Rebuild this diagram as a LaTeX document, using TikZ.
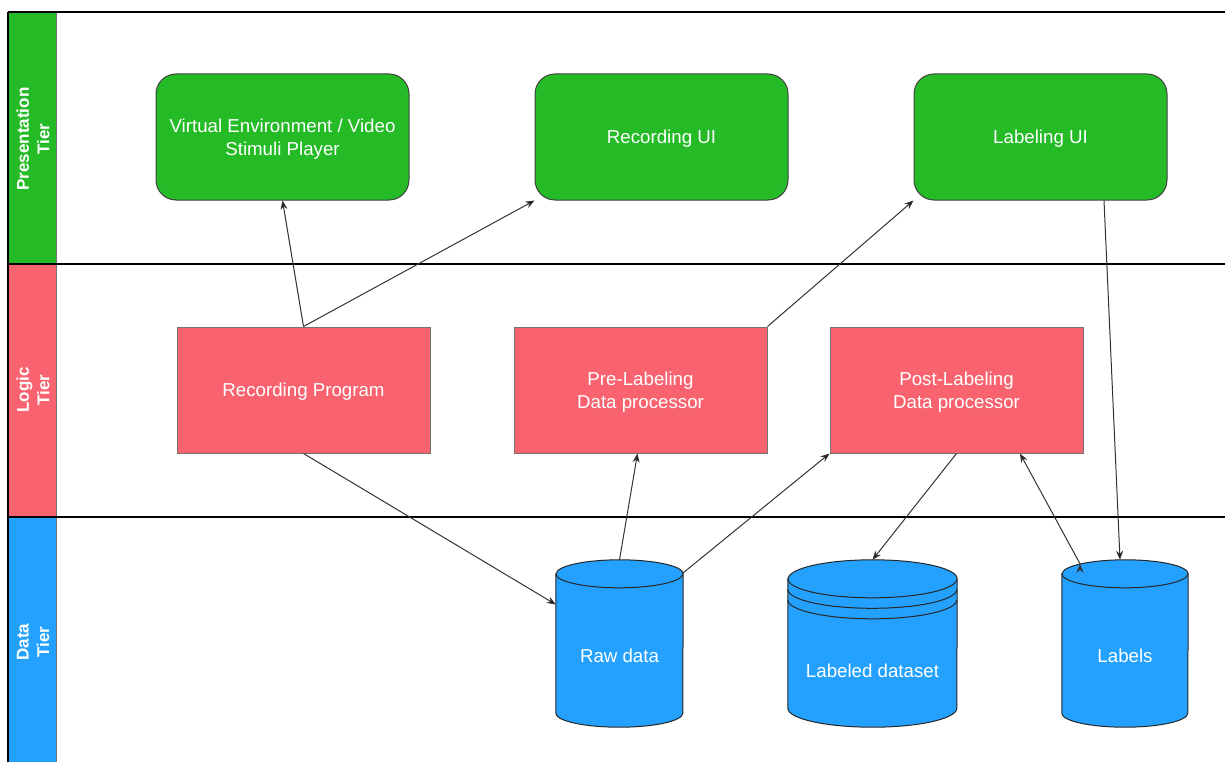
\documentclass[tikz,border=0pt]{standalone}
\usepackage{fontspec}
\setmainfont{Liberation Sans}
\usepackage{tikz}
\usetikzlibrary{arrows.meta,positioning,calc,backgrounds}
\usepackage{xcolor}

\definecolor{uigreen}{RGB}{36,187,38}
\definecolor{logicred}{RGB}{249,99,111}
\definecolor{datablue}{RGB}{36,161,255}
\newcommand{\boxfont}{\fontsize{18.7}{22.7}\selectfont}
\newcommand{\lanefont}{\fontsize{17}{20.5}\selectfont\bfseries}

\begin{document}
\begin{tikzpicture}[x=1pt,y=-1pt,>={Stealth[length=9pt,width=7pt]},node distance=253pt,on grid]
	\useasboundingbox (0,0) rectangle (1225,762);
	\tikzset{uibox/.style={draw=black!75,line width=1pt,fill=uigreen,rounded corners=20pt,minimum width=253pt,minimum height=126pt,text=white,align=center,font=\boxfont,text depth=0pt}}
	\tikzset{logicbox/.style={draw=black!55,line width=1pt,fill=logicred,minimum width=253pt,minimum height=126pt,text=white,align=center,font=\boxfont,text depth=0pt}}
	\tikzset{store/.style={inner sep=0pt,minimum height=167pt,text=white,font=\boxfont,text height=37.4pt,text depth=0pt}}
	\tikzset{lanetext/.style={rotate=90,text=white,align=center,font=\lanefont}}
	\tikzset{dbedge/.style={draw=black!85,line width=1pt}}
	\tikzset{link/.style={->,draw=black!80,line width=1pt}}

	% presentation tier
	\node[uibox]          (vr)       at (282.5,137)        {Virtual Environment / Video\\Stimuli Player};
	\node[uibox]          (recui)    [right=379pt of vr]   {Recording UI};
	\node[uibox]          (labui)    [right=379pt of recui] {Labeling UI};
	% logic tier
	\node[logicbox]       (recprog)  at (303.5,390)        {Recording Program};
	\node[logicbox]       (prelab)   [right=337pt of recprog] {Pre-Labeling\\Data processor};
	\node[logicbox]       (postlab)  [right=316pt of prelab]  {Post-Labeling\\Data processor};
	% data tier
	\node[store,minimum width=127pt] (raw)     at (619.5,643.5) {Raw data};
	\node[store,minimum width=169pt,text height=67.4pt] (labeled) [right=of raw] {Labeled dataset};
	\node[store,minimum width=126pt] (labels)  [right=252.5pt of labeled] {Labels};

	% lane titles
	\node[lanetext] (presentation) at (33,139) {Presentation\\Tier};
	\node[lanetext] (logic)        at (33,390) {Logic\\Tier};
	\node[lanetext] (data)         at (33,642) {Data\\Tier};

	\path[link] (recprog.north) edge (vr.south)
		(recprog.north) edge (recui.south west)
		(prelab.north east) edge (labui.south west)
		($(labui.south west)!0.75!(labui.south east)$) edge ([xshift=-5pt]labels.north)
		(recprog.south) edge ([yshift=39pt]raw.west)
		(raw.north) edge ([xshift=-3pt]prelab.south)
		([yshift=-13pt]raw.north east) edge (postlab.south west)
		(postlab.south) edge (labeled.north)
		([xshift=-45pt,yshift=-4pt]labels.north) edge ($(postlab.south)!0.5!(postlab.south east)$);

	\begin{pgfonlayer}{background}
		% swimlanes
		\fill[uigreen]  (8,12)  rectangle (56,264);
		\fill[logicred] (8,264) rectangle (56,517);
		\fill[datablue] (8,517) rectangle (56,762);
		\draw[black!55,line width=1pt] (56,12) -- (56,762);
		\foreach \y in {12,264,517}
			\draw[black,line width=1.2pt] (8,\y) -- (1225,\y);
		\draw[black,line width=1.2pt] (8,12) -- (8,762);
		% cylinders
		\foreach \n/\rx/\ry in {raw/63.5/14,labeled/84.5/19,labels/63/14} {
			\filldraw[dbedge,fill=datablue] ($(\n.north west)+(0,\ry)$) -- ($(\n.south west)-(0,\ry)$)
				arc[start angle=180,end angle=360,x radius=\rx pt,y radius=\ry pt]
				-- ($(\n.north east)+(0,\ry)$)
				arc[start angle=0,end angle=180,x radius=\rx pt,y radius=\ry pt] -- cycle;
			\draw[dbedge] ($(\n.north west)+(0,\ry)$) arc[start angle=180,end angle=360,x radius=\rx pt,y radius=\ry pt];
		}
		\foreach \k in {10.5,21}
			\draw[dbedge] ($(labeled.north west)+(0,19+\k)$) arc[start angle=180,end angle=360,x radius=84.5pt,y radius=19pt];
	\end{pgfonlayer}
\end{tikzpicture}
\end{document}
